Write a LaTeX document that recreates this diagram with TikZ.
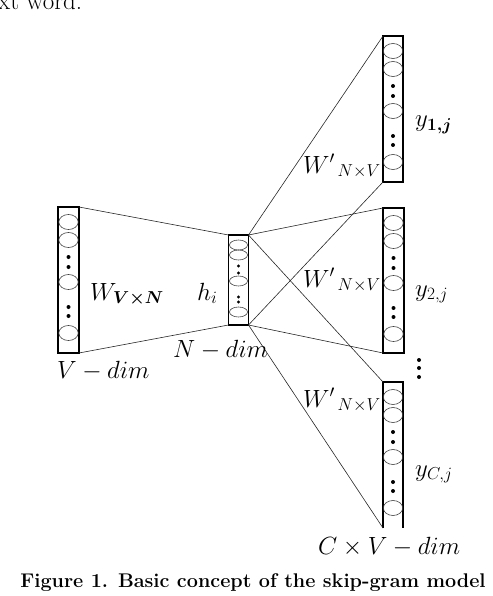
\documentclass[tikz,border=0pt]{standalone}
\usepackage{amsmath}
\DeclareMathSizes{24}{24}{18}{14}
\usetikzlibrary{calc}
\begin{document}
\begin{tikzpicture}[x=1pt,y=-1pt,
  colbox/.style={draw, line width=1.2pt, minimum width=20pt, inner sep=0pt, outer sep=0pt},
  openbox/.style={inner sep=0pt, outer sep=0pt, minimum width=20pt},
  conn/.style={draw=black!85, line width=0.6pt},
  ell/.style={draw=black!75, line width=0.6pt},
  dotf/.style={fill=black},
  lab/.style={inner sep=0pt, anchor=base west, font=\fontsize{24}{28}\selectfont},
]
\useasboundingbox (0,0) rectangle (492,596);

% columns
\node[colbox, minimum width=21pt, minimum height=146pt] (L) at (68.5,280) {};
\node[colbox, minimum height=90pt] (H) at (238.5,280) {};
\node[colbox, minimum height=146pt] (R1) at (393,109) {};
\node[colbox, minimum width=21pt, minimum height=145pt] (R2) at (393.5,280.5) {};
\node[openbox, minimum height=146pt] (R3) at (393,455) {};
\draw[line width=1.2pt] (R3.south west) -- (R3.north west) -- (R3.north east) -- (R3.south east);

% connectors
\draw[conn] (L.north east) -- (H.north west);
\draw[conn] (L.south east) -- (H.south west);
\draw[conn] (H.north east) -- (R1.north west);
\draw[conn] (H.north east) -- (R2.north west);
\draw[conn] (H.north east) -- (R3.north west);
\draw[conn] (H.south east) -- (R1.south west);
\draw[conn] (H.south east) -- (R2.south west);
\draw[conn] (H.south east) -- (R3.south west);

% units inside the big columns
\foreach \n in {L,R1,R2,R3} {
  \foreach \o in {15,33,75,126}
    \draw[ell] ($(\n.north)+(0,\o)$) ellipse [x radius=9.7pt, y radius=7.5pt];
  \foreach \o in {50,60,100,109}
    \fill[dotf] ($(\n.north)+(0,\o)$) circle [radius=2pt];
}
% units inside hidden layer
\foreach \o in {10,20,46,77}
  \draw[ell] ($(H.north)+(0,\o)$) ellipse [x radius=9pt, y radius=5pt];
\foreach \o in {31,38,62,67}
  \fill[dotf] ($(H.north)+(0,\o)$) circle [radius=1.7pt];

% vertical ellipsis between output columns
\foreach \yy in {360,368,377}
  \fill[dotf] (419,\yy) circle [radius=2pt];

% labels
\node[lab] (wvn) at (90,300) {$W_{\boldsymbol{V\times N}}$};
\node[lab] (hi) at (197,300) {$h_i$};
\node[lab] (ndim) at (173,357) {$N-dim$};
\node[lab] (vdim) at (57,378) {$V-dim$};
\node[lab] (w1) at (303,173) {${W'}_{\,N\times V}$};
\node[lab] (y1) at (415,127) {$y_{\boldsymbol{1,j}}$};
\node[lab] (w2) at (303,287) {${W'}_{\,N\times V}$};
\node[lab] (y2) at (415,296) {$y_{2,j}$};
\node[lab] (w3) at (303,407) {${W'}_{\,N\times V}$};
\node[lab] (yc) at (415,476) {$y_{C,j}$};
\node[lab] (cvd) at (318,554) {$C\times V-dim$};

% caption and cut-off page text
\node[anchor=base, inner sep=0pt, font=\bfseries\fontsize{19.8}{24}\selectfont] (cap) at (253,587) {Figure 1. Basic concept of the skip-gram model};
\node[anchor=base west, inner sep=0pt, font=\fontsize{25}{28}\selectfont] (toptext) at (-2,10) {xt word.};
\end{tikzpicture}
\end{document}
